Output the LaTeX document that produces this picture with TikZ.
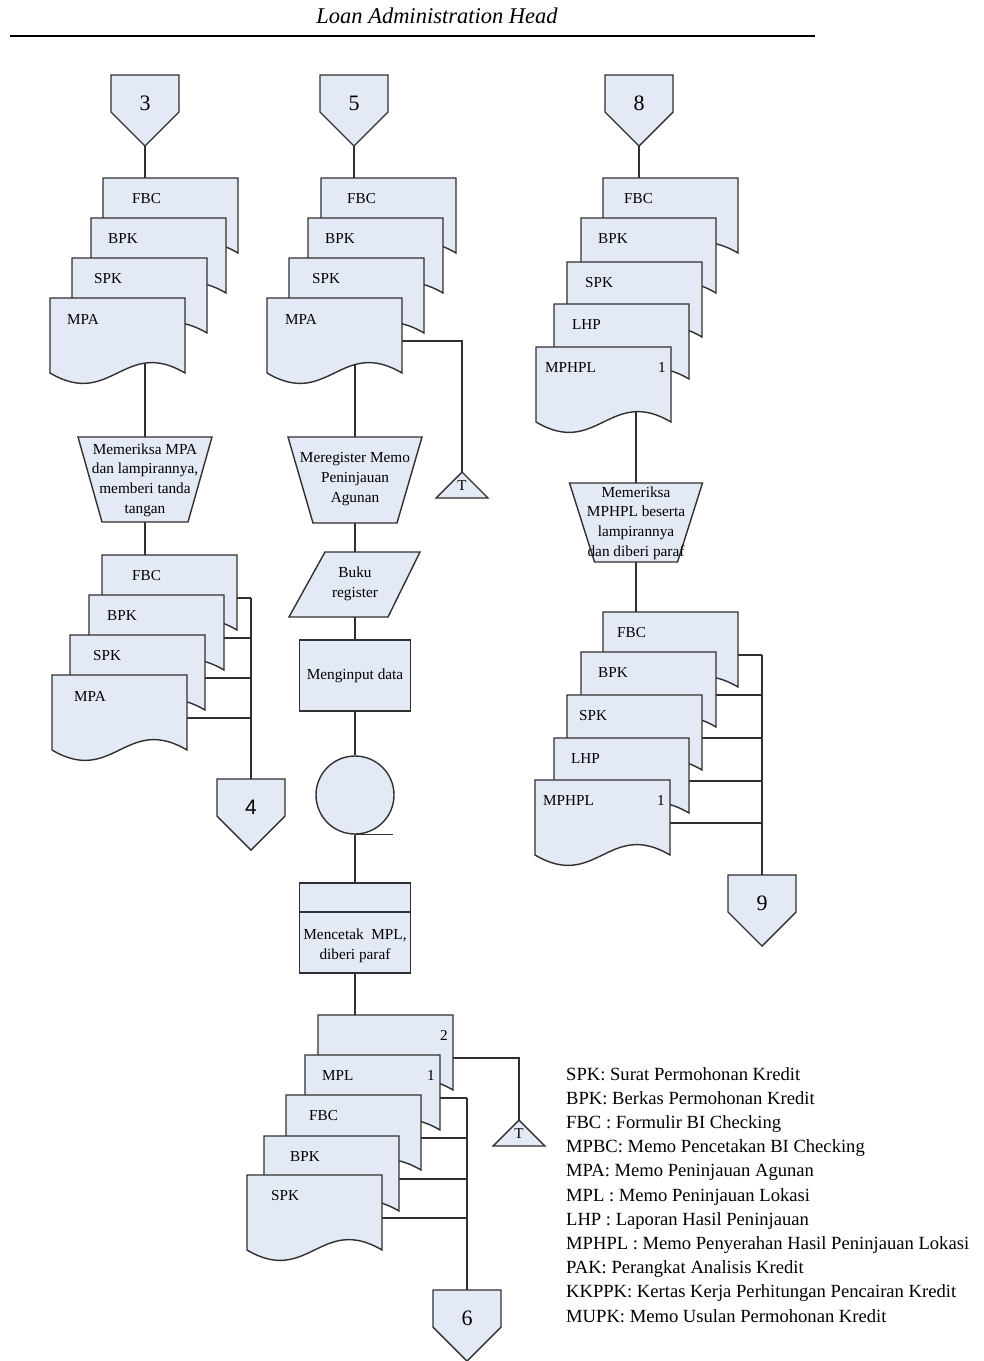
\documentclass[tikz,border=0pt]{standalone}
\usepackage{fontspec}
\setmainfont{Liberation Serif}
\setsansfont{Liberation Sans}
\usetikzlibrary{calc}
\pgfdeclarelayer{back}
\pgfsetlayers{back,main}
\definecolor{docfill}{HTML}{E3E9F5}
\definecolor{ink}{HTML}{303030}

\tikzset{
  shapeline/.style={draw=ink, line width=1.4pt, fill=docfill, line join=miter},
  flowline/.style={draw=ink, line width=1.3pt},
  doclabel/.style={font=\fontsize{15.2}{16}\selectfont, anchor=west, inner sep=0pt},
  docnum/.style={font=\fontsize{15.2}{16}\selectfont, inner sep=0pt},
  proctext/.style={font=\fontsize{15.3}{19.6}\selectfont, align=center, inner sep=0pt},
  connum/.style={font=\fontsize{22}{24}\selectfont, inner sep=0pt},
  connumsf/.style={font=\sffamily\fontsize{21}{24}\selectfont, inner sep=0pt},
  tapetext/.style={font=\fontsize{15}{16}\selectfont, inner sep=0pt},
  legendtext/.style={font=\fontsize{18.6}{24}\selectfont, anchor=base west, inner sep=0pt},
}

% document symbol: name, left, top, label, label offset
\newcommand\flowdoc[5]{%
  \path[shapeline] (#2,#3) -- (#2+135,#3) -- (#2+135,#3+75)
    .. controls (#2+74.25,#3+39) and (#2+60.75,#3+111) .. (#2,#3+75) -- cycle;
  \coordinate (#1-c) at (#2+67.5,#3+40);
  \coordinate (#1-r) at (#2+135,#3+43);
  \if\relax\detokenize{#4}\relax\else
    \node[doclabel] (#1-l) at (#2+#5,#3+21) {#4};
  \fi
}
% copy number in the corner of a document: name, left, top, number
\newcommand\docmark[4]{\node[docnum] (#1-m) at (#2+126,#3+20) {#4};}
% off-page connector: name, centre x, top, label, style
\newcommand\offpage[5]{%
  \path[shapeline] (#2-34,#3) -- (#2+34,#3) -- (#2+34,#3+37) -- (#2,#3+71)
    -- (#2-34,#3+37) -- cycle;
  \node[#5] (#1) at (#2,#3+28) {#4};
  \coordinate (#1-top) at (#2,#3);
  \coordinate (#1-tip) at (#2,#3+71);
}
% manual operation: name, centre x, top, bottom, top half width, bottom half width, text y, text
\newcommand\manop[8]{%
  \path[shapeline] (#2-#5,#3) -- (#2+#5,#3) -- (#2+#6,#4) -- (#2-#6,#4) -- cycle;
  \node[proctext] (#1) at (#2,#7) {#8};
  \coordinate (#1-top) at (#2,#3);
  \coordinate (#1-bot) at (#2,#4);
}
% temporary file triangle: name, centre x, apex y
\newcommand\tapefile[3]{%
  \path[shapeline] (#2,#3) -- (#2+26,#3+26) -- (#2-26,#3+26) -- cycle;
  \node[tapetext] (#1) at (#2,#3+14) {T};
  \coordinate (#1-apex) at (#2,#3);
}

\begin{document}
\begin{tikzpicture}[x=1pt, y=-1pt]
\useasboundingbox (0,0) rectangle (984,1361);

% heading
\node[font=\itshape\fontsize{22.5}{24}\selectfont, inner sep=0pt] (title) at (437,16) {Loan Administration Head};
\draw[line width=2.2pt, black] (10,36) -- (815,36);

% ---------- left column ----------
\offpage{c3}{145}{75}{3}{connum}
\flowdoc{la1}{103}{178}{FBC}{29}
\flowdoc{la2}{91}{218}{BPK}{17}
\flowdoc{la3}{72}{258}{SPK}{22}
\flowdoc{la4}{50}{298}{MPA}{17}
\manop{tA}{145}{437}{522}{67}{43}{480}{Memeriksa MPA\\dan lampirannya,\\memberi tanda\\tangan}
\flowdoc{lb1}{102}{555}{FBC}{30}
\flowdoc{lb2}{89}{595}{BPK}{18}
\flowdoc{lb3}{70}{635}{SPK}{23}
\flowdoc{lb4}{52}{675}{MPA}{22}
\offpage{c4}{251}{779}{4}{connumsf}

% ---------- middle column ----------
\offpage{c5}{354}{75}{5}{connum}
\flowdoc{ma1}{321}{178}{FBC}{26}
\flowdoc{ma2}{308}{218}{BPK}{17}
\flowdoc{ma3}{289}{258}{SPK}{23}
\flowdoc{ma4}{267}{298}{MPA}{18}
\tapefile{tp1}{462}{472}
\manop{tM}{355}{437}{523}{67}{42}{479}{Meregister Memo\\Peninjauan\\Agunan}
% register book
\path[shapeline] (325,552) -- (420,552) -- (388,617) -- (289,617) -- cycle;
\node[proctext] (pB) at (355,584) {Buku\\register};
\coordinate (pB-top) at (355,552);
\coordinate (pB-bot) at (355,617);
\node[shapeline, proctext, minimum width=111pt, minimum height=71pt] (rI) at (355,675.5) {Menginput data};
\node[shapeline, circle, minimum size=78pt, inner sep=0pt] (cT) at (355,795) {};
\draw[flowline] (cT.south) -- ++(38,0);
\node[shapeline, minimum width=111pt, minimum height=90pt, inner sep=0pt] (rC) at (355,928) {};
\draw[flowline] (299.7,912) -- (410.3,912);
\node[proctext] (rCt) at (355,946) {Mencetak~~MPL,\\diberi paraf};
\flowdoc{mb1}{318}{1015}{}{0}
\docmark{mb1}{318}{1015}{2}
\flowdoc{mb2}{305}{1055}{MPL}{17}
\docmark{mb2}{305}{1055}{1}
\flowdoc{mb3}{286}{1095}{FBC}{23}
\flowdoc{mb4}{264}{1136}{BPK}{26}
\flowdoc{mb5}{247}{1175}{SPK}{24}
\tapefile{tp2}{519}{1120}
\offpage{c6}{467}{1290}{6}{connum}

% ---------- right column ----------
\offpage{c8}{639}{75}{8}{connum}
\flowdoc{ra1}{603}{178}{FBC}{21}
\flowdoc{ra2}{581}{218}{BPK}{17}
\flowdoc{ra3}{567}{262}{SPK}{18}
\flowdoc{ra4}{554}{304}{LHP}{18}
\flowdoc{ra5}{536}{347}{MPHPL}{9}
\docmark{ra5}{536}{347}{1}
\manop{tR}{636}{483}{562}{66.5}{41.5}{523}{Memeriksa\\MPHPL beserta\\lampirannya\\dan diberi paraf}
\flowdoc{rb1}{603}{612}{FBC}{14}
\flowdoc{rb2}{581}{652}{BPK}{17}
\flowdoc{rb3}{567}{695}{SPK}{12}
\flowdoc{rb4}{554}{738}{LHP}{17}
\flowdoc{rb5}{535}{780}{MPHPL}{8}
\docmark{rb5}{535}{780}{1}
\offpage{c9}{762}{875}{9}{connum}

% ---------- legend ----------
\foreach \txt [count=\i from 0] in {
  SPK: Surat Permohonan Kredit,
  BPK: Berkas Permohonan Kredit,
  FBC : Formulir BI Checking,
  MPBC: Memo Pencetakan BI Checking,
  MPA: Memo Peninjauan Agunan,
  MPL : Memo Peninjauan Lokasi,
  LHP : Laporan Hasil Peninjauan,
  MPHPL : Memo Penyerahan Hasil Peninjauan Lokasi,
  PAK: Perangkat Analisis Kredit,
  KKPPK: Kertas Kerja Perhitungan Pencairan Kredit,
  MUPK: Memo Usulan Permohonan Kredit}
  \node[legendtext] (leg\i) at (566,1080+24.2*\i) {\txt};

% ---------- flow lines ----------
\begin{pgfonlayer}{back}
  % left
  \draw[flowline] (c3-tip) -- (c3-tip |- la1-c);
  \draw[flowline] (tA-top) -- (tA-top |- la4-c);
  \draw[flowline] (tA-bot) -- (tA-bot |- lb1-c);
  \foreach \d in {lb1,lb2,lb3,lb4}
    \draw[flowline] (\d-r) -- (\d-r -| c4-top);
  \draw[flowline] (lb1-r -| c4-top) -- (c4-top);
  % middle
  \draw[flowline] (c5-tip) -- (c5-tip |- ma1-c);
  \draw[flowline] (ma4-r) -| (tp1-apex);
  \draw[flowline] (tM-top) -- (tM-top |- ma4-c);
  \draw[flowline] (tM-bot) -- (pB-top);
  \draw[flowline] (pB-bot) -- (rI.north);
  \draw[flowline] (rI.south) -- (cT.north);
  \draw[flowline] (cT.south) -- (rC.north);
  \draw[flowline] (rC.south) -- (rC.south |- mb1-c);
  \draw[flowline] (mb1-r) -| (tp2-apex);
  \foreach \d in {mb2,mb3,mb4,mb5}
    \draw[flowline] (\d-r) -- (\d-r -| c6-top);
  \draw[flowline] (mb2-r -| c6-top) -- (c6-top);
  % right
  \draw[flowline] (c8-tip) -- (c8-tip |- ra1-c);
  \draw[flowline] (tR-top) -- (tR-top |- ra5-c);
  \draw[flowline] (tR-bot) -- (tR-bot |- rb1-c);
  \foreach \d in {rb1,rb2,rb3,rb4,rb5}
    \draw[flowline] (\d-r) -- (\d-r -| c9-top);
  \draw[flowline] (rb1-r -| c9-top) -- (c9-top);
\end{pgfonlayer}
\end{tikzpicture}
\end{document}
